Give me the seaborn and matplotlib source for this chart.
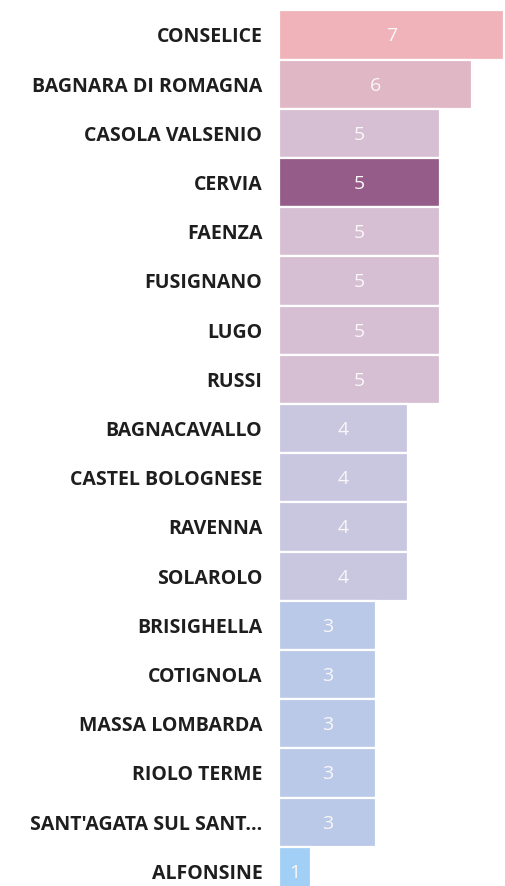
import matplotlib
matplotlib.use("Agg")
import matplotlib.pyplot as plt
import seaborn as sns
import pandas as pd

comuni = ["CONSELICE", "BAGNARA DI ROMAGNA", "CASOLA VALSENIO", "CERVIA", "FAENZA",
          "FUSIGNANO", "LUGO", "RUSSI", "BAGNACAVALLO", "CASTEL BOLOGNESE", "RAVENNA",
          "SOLAROLO", "BRISIGHELLA", "COTIGNOLA", "MASSA LOMBARDA", "RIOLO TERME",
          "SANT'AGATA SUL SANT...", "ALFONSINE"]
valori = [7, 6, 5, 5, 5, 5, 5, 5, 4, 4, 4, 4, 3, 3, 3, 3, 3, 1]
colori = ["#F0B3B9", "#E0B7C4", "#D6BED3", "#955C89", "#D6BED3", "#D6BED3", "#D6BED3",
          "#D6BED3", "#C9C6DF", "#C9C6DF", "#C9C6DF", "#C9C6DF", "#B9C9E7", "#B9C9E7",
          "#B9C9E7", "#B9C9E7", "#B9C9E7", "#A2CFF6"]

df = pd.DataFrame({"comune": comuni, "valore": valori})

sns.set_style("white")
plt.rcParams["font.family"] = ["Open Sans", "DejaVu Sans"]

W, H = 505, 886
fig = plt.figure(figsize=(W / 100, H / 100), dpi=100)
ax_left, ax_right = 279, 505
ax_top, ax_bot = 10, 886
ax = fig.add_axes([ax_left / W, 1 - ax_bot / H, (ax_right - ax_left) / W, (ax_bot - ax_top) / H])

sns.barplot(data=df, y="comune", x="valore", hue="comune", palette=colori,
            orient="h", width=1.0, edgecolor="white", linewidth=1.6,
            saturation=1, legend=False, ax=ax, order=comuni)

pitch = 49.2
c0 = 35
ax.set_ylim((ax_bot - c0) / pitch, (ax_top - c0) / pitch)
ax.set_xlim(0, (ax_right - ax_left) / 32.2)

for i, v in enumerate(valori):
    ax.text(v / 2, i + 0.03, str(v), ha="center", va="center", color="#FAF7F8",
            fontsize=14, family=["Open Sans", "DejaVu Sans"])

ax.set_xlabel("")
ax.set_ylabel("")
ax.set_xticks([])
ax.tick_params(axis="y", length=0, pad=12)
for lab in ax.get_yticklabels():
    lab.set_fontweight("bold")
    lab.set_fontsize(14)
    lab.set_color("#1E1E1E")
for s in ax.spines.values():
    s.set_visible(False)

fig.savefig("out.png", dpi=100)
